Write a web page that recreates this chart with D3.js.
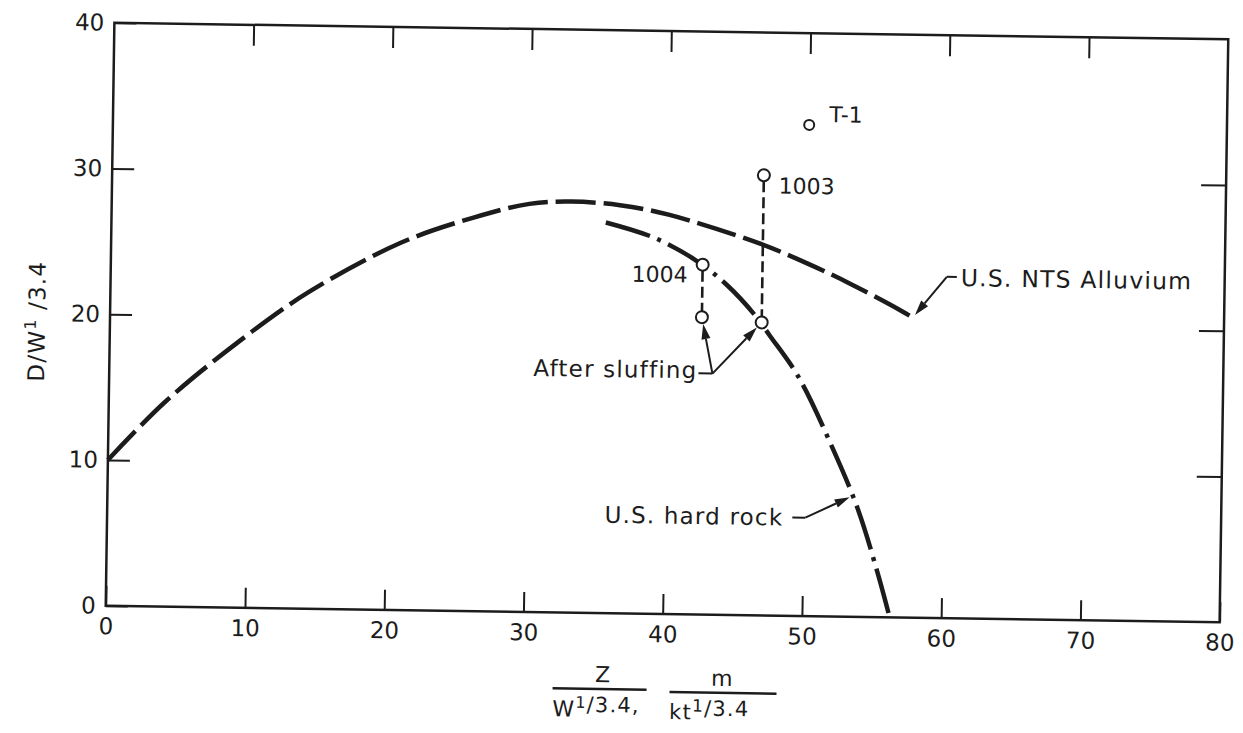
<!DOCTYPE html>
<html>
<head>
<meta charset="utf-8">
<script src="https://cdn.jsdelivr.net/npm/d3@7"></script>
<style>
  body { margin: 0; background: #fff; }
  svg { font-family: "DejaVu Sans", sans-serif; }
  text { fill: #1c1c1c; }
  .note { letter-spacing: 1.2px; }
</style>
</head>
<body>
<svg width="1243" height="733"></svg>
<script>
let width = 1243,
    height = 733;

let xTicks = [0, 10, 20, 30, 40, 50, 60, 70, 80];
let yTicks = [0, 10, 20, 30, 40];

// U.S. NTS Alluvium curve (long dashes)
let alluvium = [[0, 10], [4, 14], [9.2, 18.2], [14.2, 21.7], [20.8, 25.2], [26, 27], [30, 28],
  [33, 28.2], [36.5, 28], [40, 27.4], [46.6, 25.5], [50, 24.2], [53, 22.9], [56.7, 21.1], [57.8, 20.5]];

// U.S. hard rock curve (dash-dot)
let hardRock = [[35.5, 26.8], [39, 25.8], [42, 24.3], [44.3, 22.6], [46.3, 20.6], [47.4, 19.2],
  [49.5, 16.4], [52, 11.6], [53.9, 7.4], [55.4, 3], [56.3, 0]];

// shots: measured depth and depth after sluffing
let shots = [
  {name: "T-1", x: 50.0, y: 33.7},
  {name: "1003", x: 46.8, y: 30.2, after: 20.1},
  {name: "1004", x: 42.5, y: 24.0, after: 20.4}
];

let svg = d3.select("svg");

// the scanned figure sits slightly tilted
let g = svg.append("g")
  .attr("transform", "rotate(0.85, 666.6, 322.3)");

let x = d3.scaleLinear().domain([0, 80]).range([110, 1224]);
let y = d3.scaleLinear().domain([0, 40]).range([614, 31]);

let ink = "#1c1c1c";

// frame
g.append("rect")
  .attr("x", x(0)).attr("y", y(40))
  .attr("width", x(80) - x(0)).attr("height", y(0) - y(40))
  .attr("fill", "none").attr("stroke", ink).attr("stroke-width", 2.5);

let styleAxis = (sel) => {
  sel.select(".domain").remove();
  sel.selectAll(".tick line").attr("stroke", ink).attr("stroke-width", 2);
  sel.selectAll(".tick text")
    .attr("font-size", 23).attr("fill", ink).attr("font-family", "DejaVu Sans");
};

g.append("g")
  .attr("transform", `translate(0,${y(0)})`)
  .call(d3.axisBottom(x).tickValues(xTicks).tickSize(-20).tickPadding(12))
  .call(styleAxis);

g.append("g")
  .attr("transform", `translate(0,${y(40)})`)
  .call(d3.axisTop(x).tickValues(xTicks.slice(1, -1)).tickSize(-21).tickFormat(""))
  .call(styleAxis);

g.append("g")
  .attr("transform", `translate(${x(0)},0)`)
  .call(d3.axisLeft(y).tickValues(yTicks).tickSize(-22).tickPadding(10))
  .call(styleAxis);

g.append("g")
  .attr("transform", `translate(${x(80)},0)`)
  .call(d3.axisRight(y).tickValues(yTicks.slice(1, -1)).tickSize(-25).tickFormat(""))
  .call(styleAxis);

// curves
let line = d3.line()
  .x(d => x(d[0]))
  .y(d => y(d[1]))
  .curve(d3.curveCatmullRom);

g.append("path")
  .datum(alluvium)
  .attr("d", line)
  .attr("fill", "none").attr("stroke", ink)
  .attr("stroke-width", 4.5)
  .attr("stroke-dasharray", "40,8");

g.append("path")
  .datum(hardRock)
  .attr("d", line)
  .attr("fill", "none").attr("stroke", ink)
  .attr("stroke-width", 4.5)
  .attr("stroke-dasharray", "46,8,4,8");

// sluffing drops
let sluffed = shots.filter(d => d.after != null);

g.selectAll(".drop")
  .data(sluffed)
  .enter().append("line")
  .attr("class", "drop")
  .attr("x1", d => x(d.x)).attr("x2", d => x(d.x))
  .attr("y1", d => y(d.y) + 6).attr("y2", d => y(d.after) - 6)
  .attr("stroke", ink).attr("stroke-width", 2.6)
  .attr("stroke-dasharray", "11,5");

let marks = [];
shots.forEach(d => {
  marks.push({x: d.x, y: d.y, r: d.name == "T-1" ? 5 : 6});
  if (d.after != null) marks.push({x: d.x, y: d.after, r: 6});
});

g.selectAll(".pt")
  .data(marks)
  .enter().append("circle")
  .attr("class", "pt")
  .attr("cx", d => x(d.x)).attr("cy", d => y(d.y))
  .attr("r", d => d.r)
  .attr("fill", "#fff").attr("stroke", ink).attr("stroke-width", 2);

// shot labels
let shotLabel = {
  "T-1": {dx: 20, dy: -3, anchor: "start"},
  "1003": {dx: 15, dy: 18, anchor: "start"},
  "1004": {dx: -15, dy: 18, anchor: "end"}
};

g.selectAll(".shot")
  .data(shots)
  .enter().append("text")
  .attr("class", "shot")
  .attr("x", d => x(d.x) + shotLabel[d.name].dx)
  .attr("y", d => y(d.y) + shotLabel[d.name].dy)
  .attr("text-anchor", d => shotLabel[d.name].anchor)
  .attr("font-size", 22)
  .text(d => d.name);

// arrows
let arrow = (from, to) => {
  let ddx = to[0] - from[0], ddy = to[1] - from[1];
  let len = Math.hypot(ddx, ddy);
  let ux = ddx / len, uy = ddy / len;
  let bx = to[0] - ux * 15, by = to[1] - uy * 15;
  g.append("line")
    .attr("x1", from[0]).attr("y1", from[1])
    .attr("x2", bx).attr("y2", by)
    .attr("stroke", ink).attr("stroke-width", 2);
  g.append("path")
    .attr("d", `M${to[0]},${to[1]}L${bx - uy * 4.5},${by + ux * 4.5}L${bx + uy * 4.5},${by - ux * 4.5}Z`)
    .attr("fill", ink);
};

let leader = (p, q) => {
  g.append("line")
    .attr("x1", p[0]).attr("y1", p[1]).attr("x2", q[0]).attr("y2", q[1])
    .attr("stroke", ink).attr("stroke-width", 2);
};

// "After sluffing"
let afterPos = [x(42.24), y(16.2)];
g.append("text")
  .attr("class", "note")
  .attr("x", afterPos[0]).attr("y", afterPos[1])
  .attr("text-anchor", "end").attr("font-size", 23)
  .text("After sluffing");
let knee = [afterPos[0] + 15, afterPos[1] - 5];
leader([afterPos[0] + 1, afterPos[1] - 5], knee);
sluffed.forEach(d => {
  let cx = x(d.x), cy = y(d.after);
  let ddx = cx - knee[0], ddy = cy - knee[1], len = Math.hypot(ddx, ddy);
  arrow(knee, [cx - ddx / len * 7, cy - ddy / len * 7]);
});

// "U.S. hard rock"
let rockPos = [x(48.56), y(6.2)];
g.append("text")
  .attr("class", "note")
  .attr("x", rockPos[0]).attr("y", rockPos[1])
  .attr("text-anchor", "end").attr("font-size", 23)
  .text("U.S. hard rock");
let rockKnee = [rockPos[0] + 22, rockPos[1] - 8];
leader([rockPos[0] + 9, rockPos[1] - 8], rockKnee);
arrow(rockKnee, [x(53.3), y(8.2)]);

// "U.S. NTS Alluvium"
let alluvPos = [x(61.05), y(22.8)];
g.append("text")
  .attr("class", "note")
  .attr("x", alluvPos[0]).attr("y", alluvPos[1])
  .attr("text-anchor", "start").attr("font-size", 23.5)
  .text("U.S. NTS Alluvium");
let alluvKnee = [alluvPos[0] - 14, alluvPos[1] - 9];
leader([alluvPos[0] - 4, alluvPos[1] - 9], alluvKnee);
let endPt = alluvium[alluvium.length - 1];
arrow(alluvKnee, [x(endPt[0]), y(endPt[1]) - 4]);

// y axis title
let yt = g.append("text")
  .attr("class", "note")
  .attr("transform", `translate(45,${y(20) + 8}) rotate(-90)`)
  .attr("text-anchor", "middle").attr("font-size", 23);
yt.append("tspan").text("D/W");
yt.append("tspan").attr("dy", -9).attr("font-size", 16).text("1");
yt.append("tspan").attr("dy", 9).text(" /3.4");

// x axis title: two stacked fractions
let xt = g.append("g");
xt.append("line").attr("x1", 558).attr("x2", 652).attr("y1", 690).attr("y2", 690)
  .attr("stroke", ink).attr("stroke-width", 2.5);
xt.append("text").attr("x", 608).attr("y", 683).attr("text-anchor", "middle")
  .attr("font-size", 22).text("Z");
let wt = xt.append("text").attr("class", "note").attr("x", 558).attr("y", 718).attr("font-size", 22);
wt.append("tspan").text("W");
wt.append("tspan").attr("dy", -9).attr("font-size", 16).text("1");
wt.append("tspan").attr("dy", 4).attr("font-size", 21).text("/3.4,");

xt.append("line").attr("x1", 675).attr("x2", 782).attr("y1", 692).attr("y2", 692)
  .attr("stroke", ink).attr("stroke-width", 2.5);
xt.append("text").attr("x", 727).attr("y", 685).attr("text-anchor", "middle")
  .attr("font-size", 22).text("m");
let kt = xt.append("text").attr("class", "note").attr("x", 675).attr("y", 719).attr("font-size", 21);
kt.append("tspan").text("kt");
kt.append("tspan").attr("dy", -8).attr("font-size", 17).text("1");
kt.append("tspan").attr("dy", 4).attr("font-size", 21).text("/3.4");
</script>
</body>
</html>
